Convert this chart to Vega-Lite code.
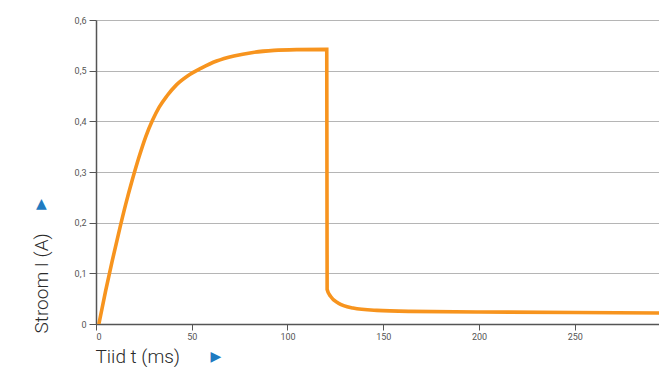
{
  "$schema": "https://vega.github.io/schema/vega-lite/v6.json",
  "width": 563,
  "height": 304,
  "autosize": {"type": "none"},
  "padding": {"left": 96, "top": 20, "right": 0, "bottom": 43},
  "background": "white",
  "config": {"view": {"stroke": null}},
  "datasets": {
    "curve": [
      {"t": 1.5, "I": 0},
      {"t": 5, "I": 0.065},
      {"t": 8.5, "I": 0.125},
      {"t": 12, "I": 0.182},
      {"t": 15.5, "I": 0.236},
      {"t": 19, "I": 0.285},
      {"t": 22.5, "I": 0.33},
      {"t": 26, "I": 0.37},
      {"t": 29.5, "I": 0.402},
      {"t": 33, "I": 0.428},
      {"t": 37, "I": 0.45},
      {"t": 42, "I": 0.472},
      {"t": 48, "I": 0.49},
      {"t": 55, "I": 0.505},
      {"t": 63, "I": 0.519},
      {"t": 72, "I": 0.529},
      {"t": 82, "I": 0.536},
      {"t": 93, "I": 0.54},
      {"t": 105, "I": 0.5415},
      {"t": 120.5, "I": 0.542},
      {"t": 120.7, "I": 0.068},
      {"t": 122.5, "I": 0.0545},
      {"t": 126.4, "I": 0.0415},
      {"t": 134.2, "I": 0.0316},
      {"t": 146.6, "I": 0.0269},
      {"t": 164, "I": 0.0249},
      {"t": 200, "I": 0.0238},
      {"t": 250, "I": 0.0226},
      {"t": 294, "I": 0.0217}
    ],
    "arrows": [
      {"t": -28.5, "I": 0.236, "sym": "▲"},
      {"t": 62.6, "I": -0.066, "sym": "▶"}
    ]
  },
  "layer": [
    {
      "data": {"name": "curve"},
      "mark": {"type": "line", "color": "#F7941E", "strokeWidth": 3.6, "interpolate": "monotone", "strokeJoin": "miter", "clip": true},
      "encoding": {
        "x": {
          "field": "t", "type": "quantitative",
          "scale": {"domain": [0, 294], "nice": false, "zero": false},
          "axis": {
            "values": [0, 50, 100, 150, 200, 250],
            "grid": false,
            "domainColor": "#555555", "domainWidth": 1.5,
            "tickColor": "#555555", "tickSize": 6, "tickWidth": 1,
            "labelFont": "Roboto", "labelFontSize": 9, "labelColor": "#555555", "labelPadding": 2,
            "title": "Tiid t (ms)",
            "titleFont": "Roboto", "titleFontWeight": 300, "titleFontSize": 19, "titleColor": "#2a2a2a",
            "titleAnchor": "start", "titleAlign": "left", "titleBaseline": "middle",
            "titleX": -1, "titleY": 32
          }
        },
        "y": {
          "field": "I", "type": "quantitative",
          "scale": {"domain": [0, 0.6], "nice": false},
          "axis": {
            "values": [0, 0.1, 0.2, 0.3, 0.4, 0.5, 0.6],
            "labelExpr": "datum.value == 0 ? '0' : replace(format(datum.value, '.1f'), '.', ',')",
            "grid": true, "gridColor": "#b5b5b5", "gridWidth": 1,
            "domainColor": "#555555", "domainWidth": 1.5,
            "tickColor": "#555555", "tickSize": 7, "tickWidth": 1,
            "labelFont": "Roboto", "labelFontSize": 9, "labelColor": "#555555", "labelPadding": 3,
            "title": "Stroom I (A)",
            "titleFont": "Roboto", "titleFontWeight": 300, "titleFontSize": 19, "titleColor": "#2a2a2a",
            "titleAngle": -90, "titleAlign": "left", "titleBaseline": "middle",
            "titleX": -55, "titleY": 313
          }
        }
      }
    },
    {
      "data": {"name": "arrows"},
      "mark": {"type": "text", "color": "#1F7BC1", "font": "DejaVu Sans", "fontSize": 14, "align": "center", "baseline": "middle", "clip": false},
      "encoding": {
        "x": {"field": "t", "type": "quantitative"},
        "y": {"field": "I", "type": "quantitative"},
        "text": {"field": "sym"}
      }
    }
  ]
}
